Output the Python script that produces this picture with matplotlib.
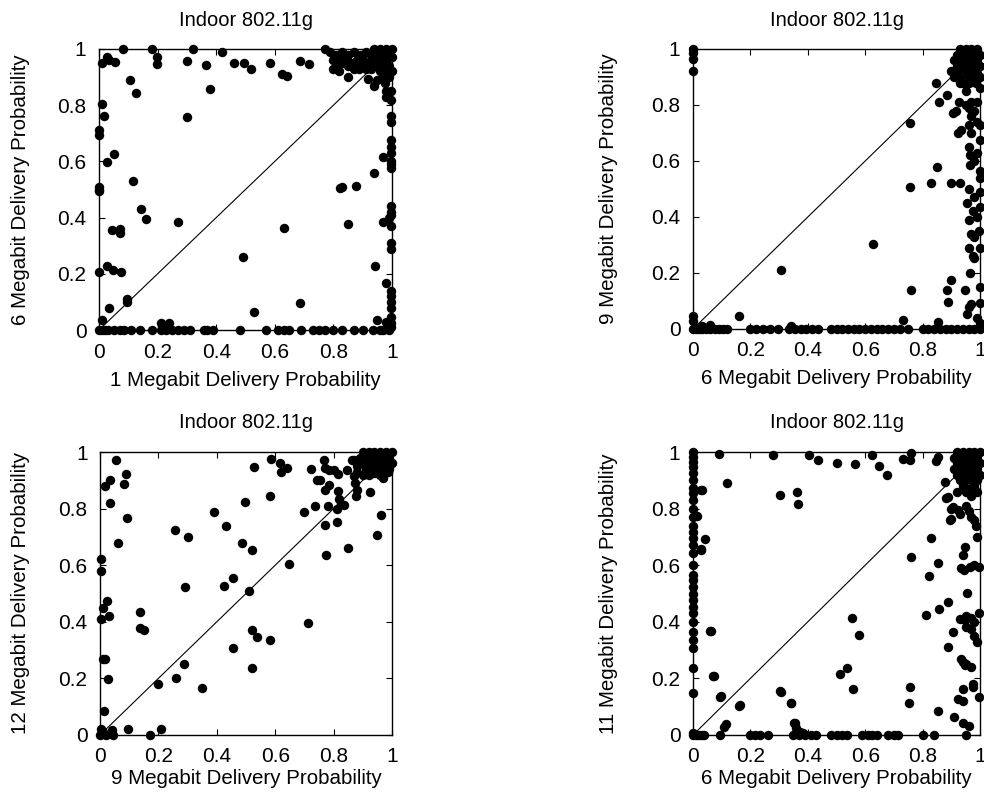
import numpy as np
import matplotlib.pyplot as plt

plt.rcParams['font.family'] = ['Liberation Sans', 'DejaVu Sans']

# --- data (x, y) ---
titulo = "Indoor 802.11g"
x_labels = ["1 Megabit Delivery Probability", "6 Megabit Delivery Probability",
            "9 Megabit Delivery Probability", "6 Megabit Delivery Probability"]
y_labels = ["6 Megabit Delivery Probability", "9 Megabit Delivery Probability",
            "12 Megabit Delivery Probability", "11 Megabit Delivery Probability"]
tick_vals = [0, 0.2, 0.4, 0.6, 0.8, 1]
tick_txt = ["0", "0.2", "0.4", "0.6", "0.8", "1"]

# 1 Mb vs 6 Mb
pontos_1_6 = [
    (0.083, 1.0), (0.18, 1.0), (0.32, 1.0), (0.77, 1.0), (0.197, 0.97), (0.197, 0.945),
    (0.42, 0.99), (0.30, 0.956), (0.364, 0.944), (0.46, 0.95), (0.496, 0.95), (0.52, 0.93),
    (0.585, 0.95), (0.624, 0.91), (0.643, 0.905), (0.685, 0.956), (0.717, 0.946),
    (0.01, 0.95), (0.026, 0.97), (0.035, 0.96), (0.055, 0.955),
    (0.106, 0.888), (0.126, 0.843), (0.38, 0.859), (0.302, 0.757),
    (0.009, 0.805), (0.017, 0.762), (0.0, 0.71), (0.0, 0.695), (0.026, 0.597), (0.051, 0.627),
    (0.0, 0.51), (0.0, 0.495), (0.0, 0.5), (0.115, 0.532), (0.142, 0.431), (0.16, 0.395),
    (0.043, 0.355), (0.07, 0.36), (0.07, 0.345), (0.268, 0.384), (0.0, 0.208), (0.028, 0.226),
    (0.049, 0.212), (0.074, 0.208), (0.095, 0.1), (0.095, 0.112), (0.035, 0.077), (0.009, 0.036),
    (0.63, 0.364), (0.493, 0.261), (0.53, 0.063), (0.687, 0.095), (0.21, 0.026), (0.24, 0.024),
    (0.823, 0.504), (0.83, 0.51), (0.878, 0.514), (0.85, 0.378), (0.94, 0.558), (0.943, 0.229),
    (0.95, 0.035), (0.97, 0.617), (0.97, 0.385), (0.98, 0.167), (0.98, 0.03),
    (0.995, 0.82), (0.995, 0.85), (0.995, 0.76), (0.995, 0.74), (0.995, 0.676), (0.995, 0.65),
    (0.995, 0.63), (0.995, 0.6), (0.995, 0.577), (0.995, 0.59), (0.995, 0.44), (0.995, 0.42),
    (0.995, 0.41), (0.995, 0.37), (0.995, 0.31), (0.995, 0.29), (0.995, 0.14), (0.995, 0.12),
    (0.995, 0.1), (0.995, 0.08), (0.995, 0.046), (0.995, 0.025), (0.995, 0.01), (0.99, 0.4),
    (0.0, 0.0), (0.01, 0.0), (0.02, 0.0), (0.03, 0.0), (0.05, 0.0), (0.07, 0.0), (0.085, 0.0),
    (0.11, 0.0), (0.14, 0.0), (0.18, 0.0), (0.21, 0.0), (0.23, 0.0), (0.25, 0.0), (0.27, 0.0),
    (0.29, 0.0), (0.31, 0.0), (0.36, 0.0), (0.37, 0.0), (0.39, 0.0), (0.48, 0.0), (0.57, 0.0),
    (0.61, 0.0), (0.63, 0.0), (0.65, 0.0), (0.69, 0.0), (0.73, 0.0), (0.75, 0.0), (0.77, 0.0),
    (0.8, 0.0), (0.83, 0.0), (0.87, 0.0), (0.9, 0.0), (0.935, 0.0), (0.96, 0.0), (0.97, 0.0),
    (0.99, 0.0),
    (0.94, 1.0), (0.96, 1.0), (0.98, 1.0), (1.0, 1.0), (0.93, 0.98), (0.95, 0.98), (0.97, 0.98),
    (0.99, 0.98), (1.0, 0.97), (0.94, 0.96), (0.96, 0.96), (0.98, 0.96), (0.95, 0.94),
    (0.97, 0.94), (0.99, 0.94), (0.96, 0.92), (0.98, 0.92), (1.0, 0.92), (0.97, 0.9), (0.99, 0.9),
    (0.92, 0.95), (0.93, 0.93), (0.79, 0.99), (0.81, 0.98), (0.83, 0.99), (0.85, 0.98),
    (0.87, 0.99), (0.89, 0.98), (0.91, 0.99), (0.8, 0.96), (0.82, 0.96), (0.84, 0.97),
    (0.86, 0.95), (0.88, 0.96), (0.9, 0.96), (0.81, 0.94), (0.83, 0.95), (0.85, 0.94),
    (0.87, 0.93), (0.89, 0.94), (0.91, 0.93), (0.8, 0.93), (0.82, 0.92), (0.85, 0.9),
    (0.887, 0.93), (0.917, 0.895), (0.94, 0.87), (0.95, 0.89), (0.975, 0.88), (0.98, 0.85),
    (0.98, 0.83),
]

# 6 Mb vs 9 Mb
pontos_6_9 = [
    (0.0, 1.0), (0.0, 0.985), (0.0, 0.964), (0.0, 0.92), (0.0, 0.045), (0.0, 0.027),
    (0.06, 0.015), (0.03, 0.01), (0.34, 0.012), (0.16, 0.048), (0.305, 0.21), (0.626, 0.305),
    (0.756, 0.735), (0.755, 0.507), (0.76, 0.138), (0.733, 0.032), (0.855, 0.025),
    (0.847, 0.88), (0.857, 0.812), (0.885, 0.836), (0.905, 0.77), (0.915, 0.78), (0.926, 0.812),
    (0.95, 0.85), (0.93, 0.877), (0.97, 0.81), (0.98, 0.78), (0.99, 0.81), (0.99, 0.74),
    (0.97, 0.76), (0.96, 0.79), (0.925, 0.7), (0.935, 0.71), (0.96, 0.65), (0.965, 0.62),
    (0.99, 0.63), (0.965, 0.585), (0.85, 0.58), (0.828, 0.52), (0.898, 0.52), (0.93, 0.52),
    (0.96, 0.5), (0.98, 0.47), (1.0, 0.54), (1.0, 0.49), (0.955, 0.45), (0.975, 0.42),
    (1.0, 0.435), (0.96, 0.39), (0.99, 0.4), (0.97, 0.34), (0.98, 0.33), (0.995, 0.35),
    (0.96, 0.29), (1.0, 0.29), (0.975, 0.26), (0.98, 0.255), (0.965, 0.2), (0.9, 0.175),
    (0.885, 0.139), (0.89, 0.095), (0.948, 0.14), (0.96, 0.077), (0.955, 0.055), (0.97, 0.09),
    (1.0, 0.093), (1.0, 0.15), (0.99, 0.04), (1.0, 0.02), (1.0, 0.86), (1.0, 0.73),
    (1.0, 0.676), (1.0, 0.563), (0.98, 0.6), (0.96, 0.73), (0.97, 0.7), (0.95, 0.8), (0.985, 0.88),
    (0.0, 0.0), (0.01, 0.0), (0.02, 0.0), (0.03, 0.0), (0.045, 0.0), (0.06, 0.0), (0.075, 0.0),
    (0.09, 0.0), (0.105, 0.0), (0.12, 0.0), (0.2, 0.0), (0.22, 0.0), (0.245, 0.0), (0.27, 0.0),
    (0.295, 0.0), (0.335, 0.0), (0.355, 0.0), (0.375, 0.0), (0.395, 0.0), (0.415, 0.0),
    (0.435, 0.0), (0.48, 0.0), (0.5, 0.0), (0.52, 0.0), (0.54, 0.0), (0.56, 0.0), (0.58, 0.0),
    (0.6, 0.0), (0.62, 0.0), (0.64, 0.0), (0.66, 0.0), (0.68, 0.0), (0.7, 0.0), (0.72, 0.0),
    (0.75, 0.0), (0.8, 0.0), (0.82, 0.0), (0.84, 0.0), (0.86, 0.0), (0.88, 0.0), (0.9, 0.0),
    (0.92, 0.0), (0.94, 0.0), (0.96, 0.0), (0.98, 0.0), (1.0, 0.0),
    (0.93, 1.0), (0.95, 1.0), (0.97, 1.0), (0.99, 1.0), (0.92, 0.98), (0.94, 0.98), (0.96, 0.98),
    (0.98, 0.98), (1.0, 0.98), (0.91, 0.96), (0.93, 0.96), (0.95, 0.96), (0.97, 0.96),
    (0.99, 0.96), (0.92, 0.94), (0.94, 0.94), (0.96, 0.94), (0.98, 0.94), (1.0, 0.94),
    (0.9, 0.92), (0.92, 0.92), (0.95, 0.92), (0.97, 0.92), (0.99, 0.915), (0.91, 0.9),
    (0.93, 0.9), (0.96, 0.9), (0.98, 0.895), (0.94, 0.88), (0.96, 0.877), (1.0, 0.9),
]

# 9 Mb vs 12 Mb
pontos_9_12 = [
    (0.055, 0.97), (0.034, 0.902), (0.017, 0.879), (0.034, 0.82), (0.088, 0.923), (0.083, 0.888),
    (0.091, 0.767), (0.063, 0.68), (0.002, 0.621), (0.002, 0.578), (0.023, 0.472), (0.009, 0.448),
    (0.002, 0.41), (0.032, 0.421), (0.137, 0.433), (0.137, 0.377), (0.151, 0.371),
    (0.009, 0.269), (0.017, 0.269), (0.026, 0.198), (0.014, 0.086),
    (0.0, 0.0), (0.01, 0.01), (0.02, 0.0), (0.005, 0.02), (0.015, 0.005), (0.042, 0.018),
    (0.046, 0.0), (0.097, 0.021), (0.171, 0.0), (0.208, 0.02),
    (0.198, 0.18), (0.26, 0.203), (0.289, 0.25), (0.349, 0.165), (0.257, 0.725), (0.30, 0.70),
    (0.291, 0.522), (0.389, 0.787), (0.431, 0.739), (0.486, 0.68), (0.497, 0.825), (0.423, 0.528),
    (0.457, 0.554), (0.509, 0.51), (0.522, 0.652), (0.52, 0.371), (0.537, 0.348), (0.454, 0.307),
    (0.522, 0.238), (0.583, 0.334), (0.646, 0.605), (0.526, 0.946), (0.583, 0.843), (0.585, 0.976),
    (0.617, 0.961), (0.64, 0.943), (0.62, 0.93), (0.70, 0.787), (0.737, 0.808), (0.714, 0.397),
    (0.722, 0.94), (0.743, 0.902), (0.754, 0.902), (0.766, 0.973), (0.77, 0.944), (0.783, 0.937),
    (0.77, 0.864), (0.783, 0.882), (0.77, 0.743), (0.775, 0.637), (0.78, 0.808), (0.802, 0.937),
    (0.814, 0.922), (0.81, 0.798), (0.81, 0.751), (0.814, 0.861), (0.817, 0.834), (0.826, 0.816),
    (0.837, 0.813), (0.851, 0.66), (0.863, 0.97), (0.846, 0.937), (0.869, 0.914), (0.874, 0.89),
    (0.88, 0.867), (0.878, 0.846), (0.926, 0.858), (0.949, 0.708), (0.963, 0.778), (0.969, 0.908),
    (0.9, 1.0), (0.92, 1.0), (0.94, 1.0), (0.96, 1.0), (0.98, 1.0), (1.0, 1.0), (0.89, 0.98),
    (0.91, 0.98), (0.93, 0.98), (0.95, 0.98), (0.97, 0.98), (0.99, 0.98), (0.9, 0.96),
    (0.92, 0.96), (0.94, 0.96), (0.96, 0.96), (0.98, 0.96), (1.0, 0.96), (0.91, 0.94),
    (0.93, 0.94), (0.95, 0.94), (0.97, 0.94), (0.99, 0.94), (0.88, 0.95), (0.87, 0.97),
    (0.92, 0.92), (0.94, 0.925), (0.96, 0.92), (0.985, 0.93), (0.9, 0.92), (0.88, 0.93),
]

# 6 Mb vs 11 Mb
pontos_6_11 = [
    (0.0, 1.0), (0.0, 0.983), (0.0, 0.966), (0.0, 0.948), (0.0, 0.925), (0.0, 0.872),
    (0.0, 0.854), (0.0, 0.83), (0.0, 0.8), (0.0, 0.77), (0.0, 0.718), (0.0, 0.695),
    (0.0, 0.671), (0.0, 0.642), (0.0, 0.565), (0.0, 0.548), (0.0, 0.524), (0.0, 0.5),
    (0.0, 0.477), (0.0, 0.453), (0.0, 0.43), (0.0, 0.4), (0.0, 0.365), (0.0, 0.336),
    (0.0, 0.306), (0.0, 0.236), (0.0, 0.147), (0.0, 0.006), (0.0, 0.9), (0.0, 0.6), (0.0, 0.74),
    (0.092, 0.993), (0.28, 0.99), (0.117, 0.889), (0.027, 0.866), (0.013, 0.774), (0.042, 0.693),
    (0.027, 0.656), (0.059, 0.367), (0.07, 0.21), (0.096, 0.138), (0.161, 0.104), (0.108, 0.029),
    (0.303, 0.848), (0.361, 0.86), (0.367, 0.815), (0.303, 0.157), (0.34, 0.112), (0.352, 0.041),
    (0.36, 0.023), (0.373, 0.012), (0.385, 0.006),
    (0.403, 0.99), (0.437, 0.97), (0.5, 0.96), (0.565, 0.959), (0.625, 0.988), (0.648, 0.95),
    (0.675, 0.918), (0.733, 0.976), (0.756, 0.97), (0.759, 0.998), (0.847, 0.967), (0.855, 0.982),
    (0.878, 0.894), (0.882, 0.839), (0.898, 0.765), (0.907, 0.804), (0.828, 0.696), (0.759, 0.629),
    (0.852, 0.608), (0.824, 0.562), (0.948, 0.665), (0.942, 0.635), (0.944, 0.582), (0.965, 0.594),
    (0.954, 0.502), (0.998, 0.594), (0.89, 0.47), (0.858, 0.445), (0.812, 0.424), (0.998, 0.43),
    (0.948, 0.406), (0.969, 0.412), (0.969, 0.376), (0.988, 0.33), (0.905, 0.365), (0.89, 0.312),
    (0.942, 0.259), (0.948, 0.247), (0.97, 0.241), (0.977, 0.17), (0.998, 0.135), (0.942, 0.161),
    (0.925, 0.126), (0.942, 0.121), (0.91, 0.062), (0.855, 0.085), (0.94, 0.044), (0.96, 0.032),
    (0.553, 0.412), (0.58, 0.353), (0.513, 0.215), (0.536, 0.235), (0.559, 0.162), (0.756, 0.17),
    (0.754, 0.114), (0.064, 0.368), (0.072, 0.21), (0.095, 0.135), (0.115, 0.039), (0.165, 0.106),
    (0.306, 0.153), (0.341, 0.114), (0.354, 0.041), (0.028, 0.653), (0.031, 0.867),
    (0.89, 0.842), (0.9, 0.8), (0.895, 0.76), (0.925, 0.795), (0.93, 0.78), (0.95, 0.81),
    (0.96, 0.79), (0.97, 0.77), (0.98, 0.76), (0.985, 0.74), (0.99, 0.7), (0.98, 0.35),
    (0.975, 0.18), (0.935, 0.27), (0.95, 0.25), (0.93, 0.41), (0.95, 0.42), (0.95, 0.38),
    (0.98, 0.4), (0.98, 0.6), (0.935, 0.59),
    (0.0, 0.0), (0.01, 0.0), (0.02, 0.0), (0.03, 0.0), (0.04, 0.0), (0.093, 0.0), (0.2, 0.0),
    (0.215, 0.0), (0.234, 0.0), (0.26, 0.0), (0.35, 0.0), (0.37, 0.0), (0.39, 0.0), (0.41, 0.0),
    (0.43, 0.0), (0.48, 0.0), (0.5, 0.0), (0.52, 0.0), (0.536, 0.0), (0.59, 0.0), (0.61, 0.0),
    (0.625, 0.0), (0.64, 0.0), (0.68, 0.0), (0.7, 0.0), (0.716, 0.0), (0.803, 0.0), (0.84, 0.0),
    (0.95, 0.0),
    (0.92, 1.0), (0.94, 1.0), (0.96, 1.0), (0.98, 1.0), (1.0, 1.0), (0.91, 0.98), (0.93, 0.98),
    (0.95, 0.98), (0.97, 0.98), (0.99, 0.98), (0.92, 0.96), (0.94, 0.96), (0.96, 0.96),
    (0.98, 0.96), (1.0, 0.96), (0.91, 0.94), (0.93, 0.94), (0.95, 0.94), (0.97, 0.94),
    (0.99, 0.94), (0.92, 0.92), (0.94, 0.92), (0.96, 0.92), (0.98, 0.92), (1.0, 0.92),
    (0.93, 0.9), (0.95, 0.9), (0.97, 0.9), (0.99, 0.9), (0.94, 0.88), (0.96, 0.87), (0.98, 0.88),
    (0.95, 0.86), (0.99, 0.86), (0.92, 0.86), (0.97, 0.845),
]

paineis = [pontos_1_6, pontos_6_9, pontos_9_12, pontos_6_11]

fig = plt.figure(figsize=(9.84, 8), dpi=100)
W, H = 984.0, 800.0
# axes boxes in pixels: left, top, right, bottom
caixas = [(99, 49, 392, 330), (693, 49, 980, 329), (100, 452, 392, 735), (693, 452, 980, 735)]
ylab_px = [21, 608, 21, 608]
xlab_off = [50, 50, 43, 43]

for k, pts in enumerate(paineis):
    l, t, r, b = caixas[k]
    ax = fig.add_axes([l / W, 1 - b / H, (r - l) / W, (b - t) / H])
    xs, ys = np.array(pts).T
    ax.plot([0, 1], [0, 1], color='black', lw=0.8, zorder=2)
    ax.plot(xs, ys, 'o', color='black', ms=6.8, mew=0, clip_on=False, zorder=3)
    ax.set_xlim(0, 1)
    ax.set_ylim(0, 1)
    ax.set_xticks(tick_vals)
    ax.set_xticklabels(tick_txt)
    ax.set_yticks(tick_vals)
    ax.set_yticklabels(tick_txt)
    ax.tick_params(direction='in', length=4, width=0.8, top=True, right=True,
                   labelsize=15, pad=9)
    for s in ax.spines.values():
        s.set_linewidth(1.0)
    ax.set_title(titulo, fontsize=14.5, y=1 + 29 / (b - t), pad=0, va='center')
    ax.set_xlabel(x_labels[k], fontsize=14.8, va='center')
    ax.xaxis.set_label_coords(0.5, -xlab_off[k] / (b - t))
    ax.set_ylabel(y_labels[k], fontsize=14.8, va='center')
    ax.yaxis.set_label_coords((ylab_px[k] - l) / (r - l), 0.5)

fig.savefig('out.png', dpi=100)
